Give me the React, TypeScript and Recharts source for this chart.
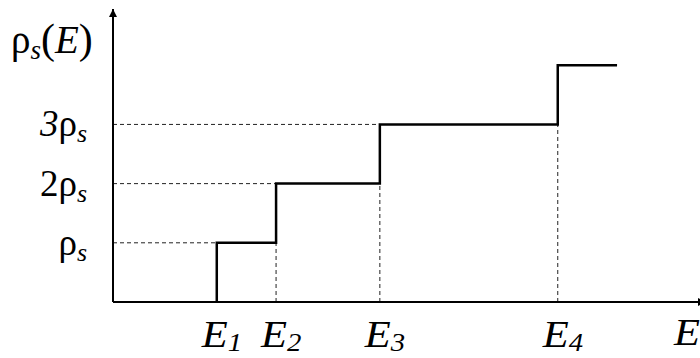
import React from "react";
import { LineChart, Line, XAxis, YAxis, ReferenceLine } from "recharts";

// level energies E1..E4 (axis units) and where the last plateau stops
const levelNames = ["1", "2", "3", "4"];
const levelEnergies = [1.75, 2.75, 4.5, 7.5];
const stepEnd = 8.5;

// density of states after each level opens, in multiples of ρs
const densitySteps = [1, 2, 3, 4];
const densityTicks = [1, 2, 3];
const densityTickPrefix = ["", "2", "3"];

const FONT = "'Liberation Serif', 'Times New Roman', serif";
// italic E is drawn a little wider than the stock glyph
const E_STRETCH = 1.15;

const stepData = [
  { e: levelEnergies[0], rho: 0 },
  ...levelEnergies.map((e, i) => ({ e, rho: densitySteps[i] })),
  { e: stepEnd, rho: densitySteps[densitySteps.length - 1] },
];

const EnergyTick = (props: any) => {
  const { x, y, payload } = props;
  const i = levelEnergies.indexOf(payload.value);
  return (
    <text
      transform={`translate(${x - 15},${y + 43}) scale(${E_STRETCH},1)`}
      fontFamily={FONT}
      fontSize={37}
      fontStyle="italic"
      fill="#000"
    >
      E
      <tspan fontSize={25} dy={4}>
        {levelNames[i]}
      </tspan>
    </text>
  );
};

const DensityTick = (props: any) => {
  const { x, y, payload } = props;
  const i = densityTicks.indexOf(payload.value);
  const prefix = densityTickPrefix[i];
  return (
    <text x={x - 24} y={y + 12} textAnchor="end" fontFamily={FONT} fontSize={37} fill="#000">
      {prefix && <tspan fontStyle={prefix === "3" ? "italic" : "normal"}>{prefix}</tspan>}
      <tspan>ρ</tspan>
      <tspan fontSize={26} fontStyle="italic" dy={6}>
        s
      </tspan>
    </text>
  );
};

const EnergyTitle = (props: any) => {
  const { viewBox } = props;
  return (
    <text
      transform={`translate(${viewBox.x + viewBox.width - 32},${viewBox.y + 43}) scale(${E_STRETCH},1)`}
      fontFamily={FONT}
      fontSize={37}
      fontStyle="italic"
      fill="#000"
    >
      E
    </text>
  );
};

const DensityTitle = (props: any) => {
  const { viewBox } = props;
  return (
    <text transform={`translate(${viewBox.x - 101},${viewBox.y + 44})`} fontFamily={FONT} fontSize={39} fill="#000">
      ρ
      <tspan fontSize={27} fontStyle="italic" dy={6}>
        s
      </tspan>
      <tspan dy={-6} fontSize={42}>(</tspan>
      <tspan fontStyle="italic">E</tspan>
      <tspan fontSize={42}>)</tspan>
    </text>
  );
};

export default function App() {
  const guide = { stroke: "#222", strokeWidth: 1, strokeDasharray: "4 3" };
  return (
    <div style={{ position: "absolute", left: 0, top: 0, width: 700, height: 358, background: "#fff" }}>
      <LineChart
        width={700}
        height={358}
        data={stepData}
        margin={{ top: 9, right: -6, bottom: 55, left: 112 }}
      >
        <defs>
          <marker
            id="arrowHead"
            viewBox="0 0 10 10"
            refX={10}
            refY={5}
            markerWidth={8}
            markerHeight={8}
            markerUnits="userSpaceOnUse"
            orient="auto-start-reverse"
          >
            <path d="M0,0 L10,5 L0,10 z" fill="#000" />
          </marker>
        </defs>
        <XAxis
          type="number"
          dataKey="e"
          domain={[0, 10]}
          ticks={levelEnergies}
          tick={<EnergyTick />}
          tickLine={false}
          tickSize={0}
          height={1}
          axisLine={{ stroke: "#000", strokeWidth: 2, markerEnd: "url(#arrowHead)" }}
          label={<EnergyTitle />}
        />
        <YAxis
          type="number"
          dataKey="rho"
          domain={[0, 4.95]}
          ticks={densityTicks}
          tick={<DensityTick />}
          tickLine={false}
          tickSize={0}
          width={1}
          axisLine={{ stroke: "#000", strokeWidth: 2, markerStart: "url(#arrowHead)" }}
          label={<DensityTitle />}
        />
        {densityTicks.map((level, i) => (
          <ReferenceLine
            key={`h${level}`}
            segment={[
              { x: 0, y: level },
              { x: levelEnergies[i], y: level },
            ]}
            {...guide}
          />
        ))}
        {levelEnergies.slice(1).map((e, i) => (
          <ReferenceLine
            key={`v${e}`}
            segment={[
              { x: e, y: 0 },
              { x: e, y: densitySteps[i] },
            ]}
            {...guide}
          />
        ))}
        <Line
          type="stepAfter"
          dataKey="rho"
          stroke="#000"
          strokeWidth={2.5}
          dot={false}
          isAnimationActive={false}
        />
      </LineChart>
    </div>
  );
}
